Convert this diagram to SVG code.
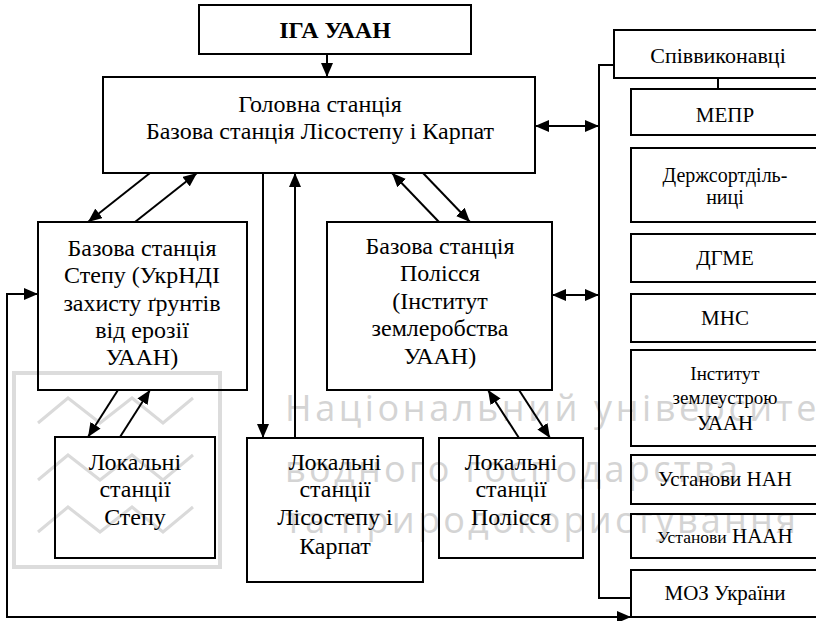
<svg xmlns="http://www.w3.org/2000/svg" width="816" height="621" viewBox="0 0 816 621">
<style>
.box{fill:none;stroke:#000;stroke-width:2}
.t{font-family:'Liberation Serif','Times New Roman',serif;font-size:24px;fill:#000;text-anchor:middle}
.r{font-size:21px}
.b{font-weight:bold}
.c{fill:none;stroke:#000;stroke-width:2}
.wm{font-family:'Open Sans','Liberation Sans',sans-serif;font-size:36px;fill:#d4d4d4}
.wl{fill:none;stroke:#dadada;stroke-width:3}
</style>
<defs>
<marker id="ah" markerUnits="userSpaceOnUse" markerWidth="14" markerHeight="12" refX="14" refY="6" orient="auto-start-reverse" viewBox="0 0 14 12">
<path d="M0,0 L14,6 L0,12 z" fill="#000"/>
</marker>
</defs>
<rect width="816" height="621" fill="#fff"/>
<g id="watermark">
<rect x="14" y="373" width="206" height="194" fill="none" stroke="#dcdcdc" stroke-width="4"/>
<polyline class="wl" points="38,423 68,398 100,423 132,398 163,423 193,398"/>
<polyline class="wl" points="38,480 68,455 100,480 132,455 163,480 193,455"/>
<polyline class="wl" points="38,532 68,507 100,532 132,507 163,532 193,507"/>
<text class="wm" x="285" y="421" textLength="552" lengthAdjust="spacing">Національний університет</text>
<text class="wm" x="285" y="482" textLength="453" lengthAdjust="spacing">водного господарства</text>
<text class="wm" x="285" y="533" textLength="511" lengthAdjust="spacing">та природокористування</text>
</g>
<g id="connectors">
<line class="c" x1="327" y1="54" x2="327" y2="77" marker-end="url(#ah)"/>
<line class="c" x1="535" y1="126" x2="599" y2="126" marker-start="url(#ah)" marker-end="url(#ah)"/>
<line class="c" x1="552" y1="295" x2="599" y2="295" marker-start="url(#ah)" marker-end="url(#ah)"/>
<path class="c" d="M614,65 H599 V598 H631"/>
<line class="c" x1="718" y1="78" x2="718" y2="89"/>
<line class="c" x1="150" y1="173" x2="88" y2="222" marker-end="url(#ah)"/>
<line class="c" x1="135" y1="222" x2="197" y2="173" marker-end="url(#ah)"/>
<line class="c" x1="263" y1="173" x2="263" y2="438" marker-end="url(#ah)"/>
<line class="c" x1="295" y1="438" x2="295" y2="173" marker-end="url(#ah)"/>
<line class="c" x1="439" y1="222" x2="392" y2="173" marker-end="url(#ah)"/>
<line class="c" x1="423" y1="173" x2="470" y2="222" marker-end="url(#ah)"/>
<line class="c" x1="118" y1="390" x2="88" y2="437" marker-end="url(#ah)"/>
<line class="c" x1="120" y1="437" x2="150" y2="390" marker-end="url(#ah)"/>
<line class="c" x1="519" y1="438" x2="488" y2="390" marker-end="url(#ah)"/>
<line class="c" x1="519" y1="390" x2="550" y2="438" marker-end="url(#ah)"/>
<path class="c" d="M38,294 H7 V617 H631" marker-start="url(#ah)" marker-end="url(#ah)"/>
</g>
<g id="iga">
<rect class="box" x="199" y="5" width="272" height="49"/>
<text class="t b" x="335" y="38">ІГА УААН</text>
</g>
<g id="main">
<rect class="box" x="103" y="77" width="432" height="96"/>
<text class="t" x="320" y="112">Головна станція</text>
<text class="t" x="320" y="139">Базова станція Лісостепу і Карпат</text>
</g>
<g id="step">
<rect class="box" x="38" y="222" width="209" height="168"/>
<text class="t" x="142" y="256">Базова станція</text>
<text class="t" x="142" y="283">Степу (УкрНДІ</text>
<text class="t" x="142" y="311">захисту ґрунтів</text>
<text class="t" x="142" y="338">від ерозії</text>
<text class="t" x="142" y="365">УААН)</text>
</g>
<g id="polissia">
<rect class="box" x="327" y="222" width="225" height="168"/>
<text class="t" x="440" y="254">Базова станція</text>
<text class="t" x="440" y="281">Полісся</text>
<text class="t" x="440" y="309">(Інститут</text>
<text class="t" x="440" y="336">землеробства</text>
<text class="t" x="440" y="364">УААН)</text>
</g>
<g id="local-step">
<rect class="box" x="55" y="437" width="160" height="121"/>
<text class="t" x="135" y="470">Локальні</text>
<text class="t" x="135" y="497">станції</text>
<text class="t" x="135" y="525">Степу</text>
</g>
<g id="local-lisostep">
<rect class="box" x="247" y="438" width="176" height="144"/>
<text class="t" x="335" y="470">Локальні</text>
<text class="t" x="335" y="497">станції</text>
<text class="t" x="335" y="525">Лісостепу і</text>
<text class="t" x="335" y="554">Карпат</text>
</g>
<g id="local-polissia">
<rect class="box" x="439" y="438" width="144" height="120"/>
<text class="t" x="511" y="470">Локальні</text>
<text class="t" x="511" y="497">станції</text>
<text class="t" x="511" y="525">Полісся</text>
</g>
<g id="spivvykonavtsi">
<rect class="box" x="614" y="30" width="208" height="48"/>
<text class="t" x="718" y="63" style="font-size:22px">Співвиконавці</text>
</g>
<g id="mepr">
<rect class="box" x="631" y="89" width="188" height="46"/>
<text class="t r" x="725" y="122">МЕПР</text>
</g>
<g id="derzhsort">
<rect class="box" x="631" y="148" width="188" height="74"/>
<text class="t r" x="725" y="182" style="font-size:20px">Держсортділь-</text>
<text class="t r" x="725" y="204" style="font-size:20px">ниці</text>
</g>
<g id="dgme">
<rect class="box" x="631" y="234" width="188" height="48"/>
<text class="t r" x="725" y="265">ДГМЕ</text>
</g>
<g id="mns">
<rect class="box" x="631" y="294" width="188" height="48"/>
<text class="t r" x="725" y="325">МНС</text>
</g>
<g id="inst-zemleustroiu">
<rect class="box" x="631" y="350" width="188" height="96"/>
<text class="t r" x="725" y="380" style="font-size:19px">Інститут</text>
<text class="t r" x="725" y="404" style="font-size:19px">землеустрою</text>
<text class="t r" x="725" y="430">УААН</text>
</g>
<g id="ustanovy-nan">
<rect class="box" x="631" y="455" width="188" height="49"/>
<text class="t r" x="725" y="486">Установи НАН</text>
</g>
<g id="ustanovy-naan">
<rect class="box" x="631" y="514" width="188" height="44"/>
<text class="t r" x="725" y="543"><tspan style="font-size:17.5px">Установи</tspan> НААН</text>
</g>
<g id="moz">
<rect class="box" x="631" y="570" width="188" height="47"/>
<text class="t r" x="725" y="600">МОЗ України</text>
</g>
</svg>
